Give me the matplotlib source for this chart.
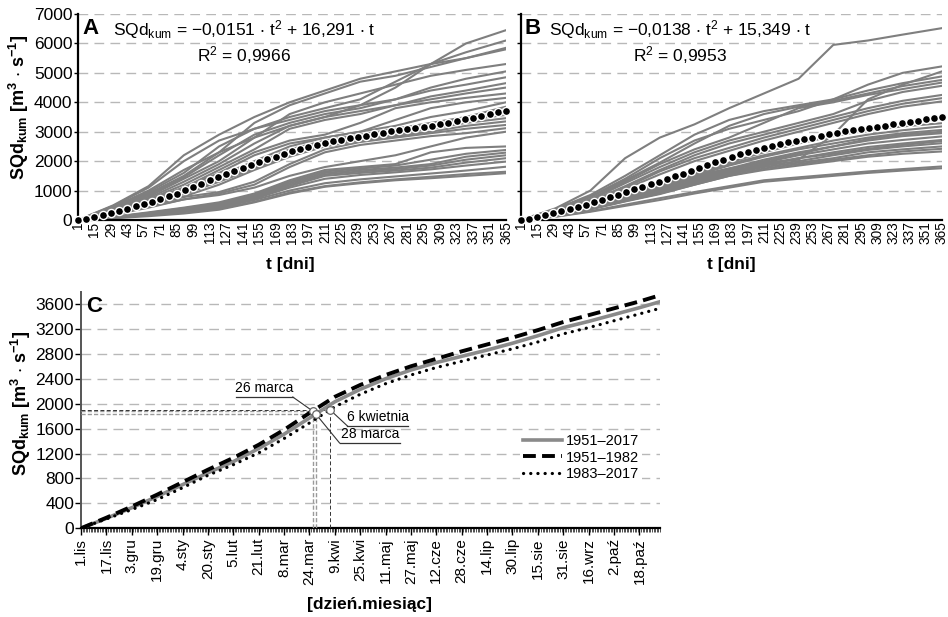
import numpy as np
import matplotlib
matplotlib.use("Agg")
import matplotlib.pyplot as plt

plt.rcParams["font.family"] = ["Liberation Sans", "DejaVu Sans"]
plt.rcParams["mathtext.fontset"] = "custom"
plt.rcParams["mathtext.rm"] = "Liberation Sans"
plt.rcParams["mathtext.it"] = "Liberation Sans:italic"
plt.rcParams["mathtext.bf"] = "Liberation Sans:bold"
plt.rcParams["mathtext.default"] = "regular"

# ---------------------------------------------------------------- data
# day of hydrological year at which the yearly curves are sampled
t_month = [1, 31, 61, 91, 121, 151, 181, 211, 241, 271, 301, 331, 365]
# weekly days for the multi-year mean curve
t_week = list(range(1, 366, 7))

# cumulative flow, individual years, period A
years_a = [
    [0, 450, 1000, 1700, 2300, 2800, 3200, 3500, 3900, 4500, 5300, 6000, 6450],
    [0, 500, 1150, 2200, 2900, 3500, 4000, 4400, 4800, 5050, 5300, 5500, 5800],
    [0, 480, 1100, 2000, 2700, 3100, 3500, 3800, 4100, 4700, 5300, 5700, 6100],
    [0, 400, 900, 1500, 2300, 3300, 3900, 4300, 4700, 4900, 5200, 5500, 5850],
    [0, 350, 800, 1400, 2000, 2800, 3600, 4000, 4300, 4600, 4900, 5100, 5300],
    [0, 420, 950, 1600, 2500, 3100, 3400, 3700, 3900, 4100, 4500, 4800, 5050],
    [0, 380, 850, 1450, 2200, 2900, 3300, 3600, 3800, 4100, 4400, 4600, 4850],
    [0, 300, 700, 1200, 1800, 2400, 3100, 3400, 3600, 3900, 4200, 4400, 4650],
    [0, 330, 750, 1300, 1900, 2600, 3200, 3500, 3700, 3900, 4100, 4300, 4500],
    [0, 280, 650, 1100, 1700, 2300, 2700, 2900, 3300, 3800, 4000, 4150, 4300],
    [0, 300, 680, 1100, 1600, 2200, 2600, 2800, 3000, 3400, 3800, 4000, 4150],
    [0, 260, 600, 1050, 1500, 2000, 2500, 2800, 3000, 3200, 3500, 3700, 4000],
    [0, 240, 580, 1000, 1450, 1900, 2400, 2700, 2900, 3100, 3300, 3500, 3850],
    [0, 250, 600, 950, 1400, 1850, 2300, 2650, 2850, 3050, 3250, 3450, 3650],
    [0, 220, 520, 900, 1350, 1800, 2250, 2600, 2800, 3000, 3200, 3400, 3570],
    [0, 230, 540, 880, 1300, 1750, 2200, 2550, 2750, 2900, 3100, 3300, 3460],
    [0, 200, 480, 800, 1200, 1700, 2150, 2500, 2700, 2850, 3000, 3200, 3350],
    [0, 210, 500, 780, 950, 1300, 1900, 2400, 2650, 2800, 2950, 3100, 3230],
    [0, 180, 420, 700, 900, 1200, 1800, 2300, 2550, 2700, 2850, 2950, 3120],
    [0, 190, 450, 700, 850, 1100, 1500, 1800, 2000, 2200, 2500, 2800, 3000],
    [0, 110, 260, 420, 600, 900, 1350, 1700, 1800, 1900, 2300, 2450, 2500],
    [0, 100, 240, 400, 560, 850, 1300, 1650, 1750, 1850, 2050, 2250, 2380],
    [0, 95, 230, 380, 540, 800, 1250, 1600, 1700, 1780, 1900, 2150, 2290],
    [0, 90, 220, 360, 500, 780, 1200, 1550, 1650, 1730, 1850, 2050, 2200],
    [0, 85, 210, 350, 480, 750, 1150, 1500, 1600, 1680, 1780, 1950, 2100],
    [0, 80, 200, 330, 460, 720, 1100, 1400, 1530, 1620, 1720, 1850, 1985],
    [0, 75, 180, 300, 420, 680, 1000, 1250, 1380, 1480, 1580, 1680, 1810],
    [0, 70, 160, 270, 380, 620, 930, 1150, 1280, 1380, 1470, 1560, 1640],
    [0, 60, 130, 220, 350, 600, 900, 1130, 1250, 1350, 1420, 1500, 1590],
]

# cumulative flow, individual years, period B
years_b = [
    [0, 400, 1000, 2100, 2800, 3250, 3800, 4300, 4800, 5950, 6100, 6300, 6520],
    [0, 350, 800, 1400, 2100, 2700, 3100, 3400, 3700, 4100, 4600, 5000, 5220],
    [0, 200, 500, 850, 1200, 1500, 1750, 1950, 2050, 2900, 4100, 4600, 5050],
    [0, 380, 850, 1500, 2200, 2900, 3400, 3700, 3900, 4100, 4400, 4650, 4880],
    [0, 330, 780, 1350, 1950, 2600, 3200, 3600, 3850, 4050, 4300, 4550, 4760],
    [0, 300, 720, 1300, 1900, 2400, 2800, 3300, 3800, 4000, 4250, 4450, 4670],
    [0, 280, 680, 1250, 1800, 2300, 2700, 3000, 3300, 3600, 4050, 4350, 4560],
    [0, 260, 640, 1150, 1700, 2200, 2600, 2900, 3200, 3500, 3800, 4050, 4250],
    [0, 250, 600, 1100, 1650, 2100, 2450, 2800, 3100, 3400, 3700, 3950, 4140],
    [0, 240, 580, 1050, 1550, 2000, 2350, 2700, 3000, 3300, 3600, 3850, 4030],
    [0, 220, 520, 900, 1250, 1600, 1950, 2300, 2600, 2850, 3050, 3180, 3290],
    [0, 210, 500, 850, 1200, 1550, 1900, 2200, 2450, 2700, 2900, 3050, 3180],
    [0, 200, 480, 820, 1150, 1500, 1850, 2150, 2400, 2600, 2800, 2950, 3060],
    [0, 200, 470, 800, 1100, 1400, 1700, 2000, 2250, 2500, 2750, 2900, 3000],
    [0, 190, 460, 780, 1100, 1450, 1750, 2050, 2300, 2500, 2700, 2850, 2950],
    [0, 180, 440, 750, 1050, 1400, 1700, 1950, 2200, 2400, 2600, 2720, 2840],
    [0, 170, 420, 720, 1000, 1350, 1650, 1900, 2100, 2300, 2480, 2600, 2720],
    [0, 170, 410, 700, 980, 1300, 1600, 1850, 2100, 2250, 2420, 2550, 2680],
    [0, 160, 400, 690, 960, 1300, 1600, 1850, 2000, 2200, 2380, 2500, 2610],
    [0, 150, 380, 660, 920, 1250, 1550, 1800, 1950, 2100, 2300, 2400, 2500],
    [0, 150, 370, 640, 900, 1200, 1500, 1750, 1900, 2050, 2200, 2330, 2420],
    [0, 140, 360, 630, 880, 1200, 1500, 1700, 1850, 2000, 2150, 2250, 2330],
    [0, 120, 300, 520, 740, 950, 1150, 1350, 1450, 1550, 1650, 1730, 1820],
    [0, 110, 280, 480, 680, 900, 1100, 1300, 1400, 1500, 1600, 1680, 1760],
]

# multi-year mean, weekly
mean_a = [0, 50, 110, 170, 240, 310, 385, 460, 540, 620, 710, 800, 900, 1010,
          1120, 1240, 1350, 1450, 1550, 1650, 1760, 1860, 1960, 2060, 2150,
          2240, 2330, 2410, 2490, 2560, 2620, 2680, 2730, 2780, 2830, 2870,
          2920, 2960, 3010, 3050, 3090, 3130, 3170, 3210, 3260, 3310, 3360,
          3420, 3480, 3540, 3600, 3660, 3720]
mean_b = [0, 45, 100, 160, 225, 290, 360, 440, 520, 600, 690, 775, 860, 950,
          1040, 1130, 1220, 1300, 1390, 1480, 1580, 1680, 1775, 1870, 1960,
          2050, 2140, 2230, 2310, 2390, 2460, 2530, 2590, 2640, 2690, 2750,
          2800, 2860, 2910, 2960, 3010, 3050, 3090, 3130, 3170, 3210, 3250,
          3290, 3330, 3380, 3420, 3460, 3500]

# fitted trend coefficients (a, b) and R^2
fit_a = ("\u22120,0151", "16,291", "0,9966")
fit_b = ("\u22120,0138", "15,349", "0,9953")

# panel C: mean cumulative curves over the hydrological year (1 Nov = day 1)
c_days = [1, 17, 33, 49, 65, 81, 97, 113, 129, 145, 161, 177, 193, 209, 225,
          241, 257, 273, 289, 305, 321, 337, 353, 366]
c_1951_2017 = [0, 160, 330, 510, 700, 890, 1070, 1280, 1510, 1770, 2030, 2230,
               2400, 2540, 2660, 2760, 2860, 2970, 3090, 3220, 3320, 3430,
               3540, 3636]
c_1951_1982 = [0, 170, 350, 540, 740, 940, 1130, 1340, 1580, 1850, 2110, 2300,
               2460, 2600, 2720, 2840, 2950, 3060, 3180, 3310, 3420, 3530,
               3640, 3740]
c_1983_2017 = [0, 150, 300, 460, 650, 850, 1020, 1210, 1440, 1690, 1950, 2150,
               2320, 2460, 2580, 2680, 2780, 2880, 2990, 3120, 3220, 3330,
               3440, 3530]
c_tick_labels = ["1.lis", "17.lis", "3.gru", "19.gru", "4.sty", "20.sty",
                 "5.lut", "21.lut", "8.mar", "24.mar", "9.kwi", "25.kwi",
                 "11.maj", "27.maj", "12.cze", "28.cze", "14.lip", "30.lip",
                 "15.sie", "31.sie", "16.wrz", "2.pa\u017a", "18.pa\u017a"]
legend_labels = ["1951\u20132017", "1951\u20131982", "1983\u20132017"]

# days at which each curve crosses its half-year threshold
half_days = {"1951_1982": 147, "1951_2017": 149, "1983_2017": 158}
half_labels = {"1951_1982": "26 marca", "1951_2017": "28 marca",
               "1983_2017": "6 kwietnia"}

# ---------------------------------------------------------------- figure
W, H = 948, 617
fig = plt.figure(figsize=(W / 100, H / 100), dpi=100)


def box(left, top, right, bottom):
    return [left / W, 1 - bottom / H, (right - left) / W, (bottom - top) / H]


def fx(x):
    return x / W


def fy(y):
    return 1 - y / H


GRID = dict(color="#b8b8b8", lw=1.0, ls=(0, (7, 4.5)))
GRAY = "#7f7f7f"


def year_panel(ax, years, mean, show_ylabels):
    for s in years:
        ax.plot(t_month, s, color=GRAY, lw=1.5, solid_joinstyle="round",
                zorder=2)
    ax.plot(t_week, mean, ls="none", marker="o", ms=5.8, mfc="black",
            mec="white", mew=1.0, zorder=3, clip_on=False)
    ax.set_xlim(1, 365)
    ax.set_ylim(0, 7000)
    ax.set_yticks(range(0, 7001, 1000))
    ax.set_xticks(range(1, 366, 14))
    ax.tick_params(axis="x", labelrotation=90, length=0, labelsize=9.8,
                   pad=1)
    ax.tick_params(axis="y", length=3, width=1, labelsize=12.5, pad=1,
                   labelleft=show_ylabels)
    ax.yaxis.grid(True, **GRID)
    ax.set_axisbelow(True)
    for side in ("top", "right"):
        ax.spines[side].set_visible(False)
    ax.spines["left"].set_linewidth(1.6)
    ax.spines["bottom"].set_linewidth(1.6)


ax_a = fig.add_axes(box(78, 14, 506, 220))
ax_b = fig.add_axes(box(521, 14, 942, 220))
year_panel(ax_a, years_a, mean_a, True)
year_panel(ax_b, years_b, mean_b, False)

for letter, fit, xl, xr in (("A", fit_a, 82, 113), ("B", fit_b, 524, 549)):
    fig.text(fx(xl), fy(29), letter, fontsize=16, fontweight="bold",
             ha="left", va="center")
    fig.text(fx(xr), fy(30),
             r"SQd$_{kum}$ = %s $\cdot$ t$^{2}$ + %s $\cdot$ t"
             % (fit[0], fit[1]),
             fontsize=12.5, ha="left", va="center")
    fig.text(fx(xr + 84), fy(55), r"R$^{2}$ = %s" % fit[2], fontsize=12.5,
             ha="left", va="center")

ylab = r"SQd$_{kum}$ [m$^{3}$ $\cdot$ s$^{-1}$]"
fig.text(fx(19), fy(107), ylab, rotation=90, fontsize=13, fontweight="bold",
         ha="center", va="center")
fig.text(fx(290), fy(265), "t [dni]", fontsize=12.5, fontweight="bold",
         ha="center", va="center")
fig.text(fx(731), fy(265), "t [dni]", fontsize=12.5, fontweight="bold",
         ha="center", va="center")

# ---------------------------------------------------------------- panel C
ax_c = fig.add_axes(box(81, 291.5, 660, 528.3))
ax_c.set_xlim(1, 366)
ax_c.set_ylim(0, 3800)

curves = {
    "1951_2017": c_1951_2017,
    "1951_1982": c_1951_1982,
    "1983_2017": c_1983_2017,
}
l1, = ax_c.plot(c_days, c_1951_2017, color="#8a8a8a", lw=2.6, zorder=4)
l2, = ax_c.plot(c_days, c_1951_1982, color="black", lw=2.8,
                ls=(0, (3.3, 1.6)), zorder=4)
l3, = ax_c.plot(c_days, c_1983_2017, color="black", lw=2.3,
                ls=(0, (0.05, 2.2)), dash_capstyle="round", zorder=4)

# threshold markers with reference lines
ref_style = {
    "1951_1982": dict(color="#9a9a9a", lw=1.0, ls=(0, (3, 1.5))),
    "1951_2017": dict(color="#9a9a9a", lw=1.0, ls=(0, (3, 1.5))),
    "1983_2017": dict(color="#333333", lw=0.7, ls=(0, (4, 2.5))),
}
marks = {}
for key, day in half_days.items():
    val = float(np.interp(day, c_days, curves[key]))
    marks[key] = (day, val)
    ax_c.plot([1, day], [val, val], zorder=3, **ref_style[key])
    ax_c.plot([day, day], [0, val], zorder=3, **ref_style[key])
    ax_c.plot([day], [val], marker="o", ms=5.5, mfc="white",
              mec="#666666", mew=0.9, ls="none", zorder=6)

# labels with underline and leader lines (positions in data units)
label_pos = {
    "1951_1982": (99, 134.5, 2107, "right"),
    "1983_2017": (169, 207, 1641, "left"),
    "1951_2017": (164, 202, 1369, "left"),
}
for key, (x0, x1, yy, anchor_side) in label_pos.items():
    day, val = marks[key]
    ax_c.plot([x0, x1], [yy, yy], color="#333333", lw=0.9, zorder=5)
    xa = x1 if anchor_side == "right" else x0
    ax_c.plot([xa, day], [yy, val], color="#333333", lw=0.8, zorder=5)
    ax_c.text((x0 + x1) / 2, yy + 25, half_labels[key], fontsize=10,
              ha="center", va="bottom", zorder=5)

ax_c.set_yticks(range(0, 3601, 400))
ax_c.set_xticks(range(1, 366, 16))
ax_c.set_xticklabels(c_tick_labels)
ax_c.set_xticks(range(1, 367), minor=True)
ax_c.tick_params(axis="x", which="major", length=5, width=1,
                 labelrotation=90, labelsize=11, pad=2)
ax_c.tick_params(axis="x", which="minor", length=3, width=0.6,
                 color="#333333")
ax_c.tick_params(axis="y", length=4, width=1, labelsize=12.5, pad=1)
ax_c.yaxis.grid(True, **GRID)
ax_c.set_axisbelow(True)
for side in ("top", "right"):
    ax_c.spines[side].set_visible(False)
ax_c.spines["left"].set_color("#555555")
ax_c.spines["left"].set_linewidth(1.4)
ax_c.spines["bottom"].set_linewidth(1.6)

leg = ax_c.legend([l1, l2, l3], legend_labels, loc="upper left",
                  bbox_to_anchor=(0.745, 0.44), fontsize=10.5,
                  handlelength=2.7, handletextpad=0.3, labelspacing=0.15,
                  borderpad=0.2, frameon=True, fancybox=False)
leg.get_frame().set_edgecolor("none")
leg.get_frame().set_facecolor("white")
leg.get_frame().set_alpha(1)

fig.text(fx(86), fy(306), "C", fontsize=16, fontweight="bold", ha="left",
         va="center")
fig.text(fx(21), fy(403), ylab, rotation=90, fontsize=13, fontweight="bold",
         ha="center", va="center")
fig.text(fx(369), fy(604), "[dzie\u0144.miesi\u0105c]", fontsize=12.5,
         fontweight="bold", ha="center", va="center")

fig.savefig("out.png", dpi=100)
